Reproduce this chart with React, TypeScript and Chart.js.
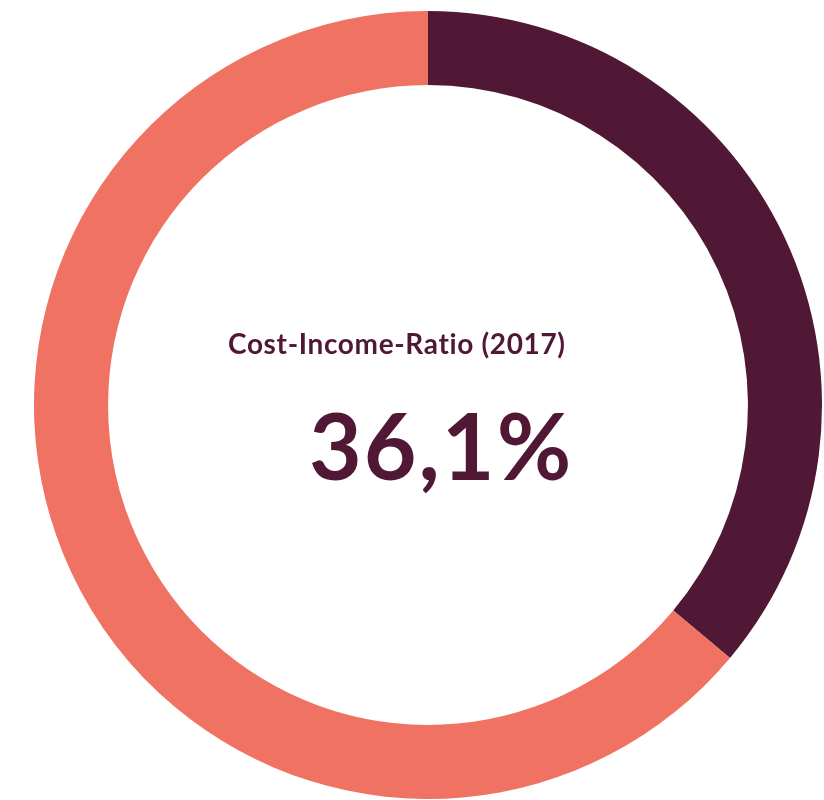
import React, { useEffect, useRef } from "react";
import { Chart, registerables } from "chart.js";

Chart.register(...registerables);

const categories = ["Cost-Income-Ratio", "Rest"];
const values = [36.1, 63.9];
const colors = ["#511836", "#EF7263"];
const subtitle = "Cost-Income-Ratio (2017)";
const bigLabel = "36,1%";

const centerText = {
  id: "centerText",
  afterDraw(chart: any) {
    const { ctx } = chart;
    const meta = chart.getDatasetMeta(0);
    const arc = meta.data[0];
    if (!arc) return;
    const cx = arc.x;
    const cy = arc.y;
    ctx.save();
    ctx.fillStyle = "#511836";
    ctx.textBaseline = "alphabetic";
    ctx.textAlign = "left";
    ctx.font = "bold 28px Lato";
    (ctx as any).letterSpacing = "0.65px";
    ctx.fillText(subtitle, cx - 200, cy - 51);
    ctx.font = "bold 91px Lato";
    (ctx as any).letterSpacing = "2px";
    ctx.fillText(bigLabel, cx - 119, cy + 75);
    ctx.restore();
  },
};

export default function App() {
  const ref = useRef<HTMLCanvasElement>(null);
  useEffect(() => {
    document.body.style.margin = "0";
    const chart = new Chart(ref.current!, {
      type: "doughnut",
      data: {
        labels: categories,
        datasets: [
          {
            data: values,
            backgroundColor: colors,
            borderWidth: 0,
          },
        ],
      },
      options: {
        animation: false,
        responsive: true,
        maintainAspectRatio: false,
        cutout: "81.2%",
        layout: { padding: 0 },
        plugins: { legend: { display: false }, tooltip: { enabled: false } },
      },
      plugins: [centerText],
    });
    return () => chart.destroy();
  }, []);
  return (
    <div style={{ position: "absolute", left: 34, top: 11, width: 788, height: 788 }}>
      <canvas ref={ref} />
    </div>
  );
}
